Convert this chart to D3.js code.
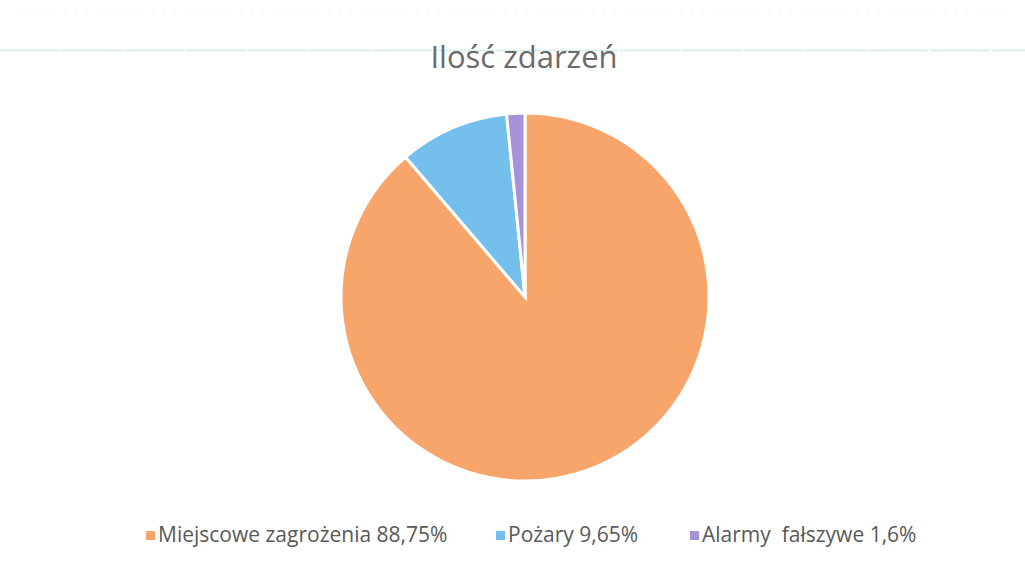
<!DOCTYPE html>
<html>
<head>
<meta charset="utf-8">
<script src="https://cdn.jsdelivr.net/npm/d3@7"></script>
<style>
  body { margin: 0; background: #fff; }
  svg { display: block; }
  text { white-space: pre; }
</style>
</head>
<body>
<svg id="chart" width="1025" height="569"></svg>
<script>
// data
const categories = ["Miejscowe zagrożenia", "Pożary", "Alarmy  fałszywe"];
const values = [88.75, 9.65, 1.6];
const legendLabels = ["Miejscowe zagrożenia 88,75%", "Pożary 9,65%", "Alarmy  fałszywe 1,6%"];
const colors = ["#f8a56c", "#74bfec", "#a792da"];
const title = "Ilość zdarzeń";

var svg = d3.select("#chart"),
    width = +svg.attr("width"),
    height = +svg.attr("height"),
    cx = 525, cy = 297, radius = 184;

// faint scan lines of the original
svg.append("line")
    .attr("x1", 0).attr("x2", width)
    .attr("y1", 50.5).attr("y2", 50.5)
    .attr("stroke", "#d3ece8")
    .attr("stroke-width", 1.5)
    .attr("stroke-dasharray", "60,2");
svg.append("line")
    .attr("x1", 20).attr("x2", width - 20)
    .attr("y1", 12.5).attr("y2", 12.5)
    .attr("stroke", "#ececec")
    .attr("stroke-dasharray", "2,9");

svg.append("text")
    .attr("x", 524)
    .attr("y", 68)
    .attr("text-anchor", "middle")
    .attr("font-family", "'Open Sans', sans-serif")
    .attr("font-size", 31)
    .attr("fill", "#6b6b6b")
    .text(title);

var color = d3.scaleOrdinal().domain(categories).range(colors);

var pie = d3.pie().sort(null).value(function (d, i) { return values[i]; });
var arc = d3.arc().innerRadius(0).outerRadius(radius);

var g = svg.append("g").attr("transform", "translate(" + cx + "," + cy + ")");

g.selectAll("path")
    .data(pie(categories))
    .enter().append("path")
    .attr("d", arc)
    .attr("fill", function (d) { return color(d.data); })
    .attr("stroke", "#fff")
    .attr("stroke-width", 3);

// legend
var legendX = [146, 496, 690];
var legend = svg.append("g")
    .attr("font-family", "'Open Sans', sans-serif")
    .attr("font-size", 21)
    .selectAll("g")
    .data(categories)
    .enter().append("g")
    .attr("transform", function (d, i) { return "translate(" + legendX[i] + ",535)"; });

legend.append("rect")
    .attr("x", 0)
    .attr("y", -4)
    .attr("width", 9)
    .attr("height", 9)
    .attr("fill", color);

legend.append("text")
    .attr("x", 12)
    .attr("y", 0)
    .attr("dy", "0.35em")
    .attr("fill", "#595959")
    .text(function (d, i) { return legendLabels[i]; });
</script>
</body>
</html>
